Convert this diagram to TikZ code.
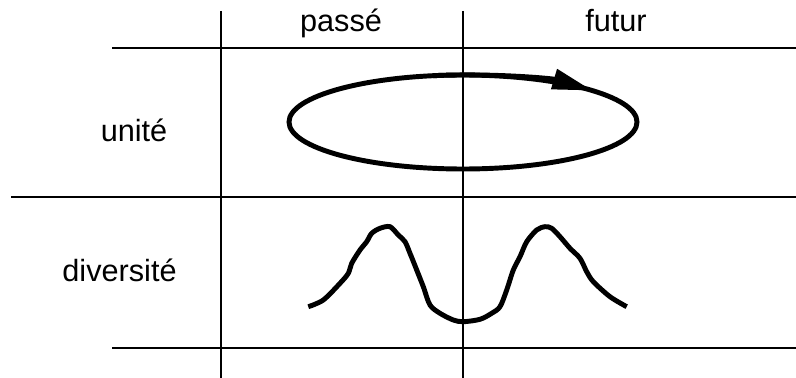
\documentclass[tikz,border=0pt]{standalone}
\usepackage{fontspec}
\setmainfont{Liberation Sans}
\usepackage{tikz}
\usetikzlibrary{arrows.meta,positioning}

\begin{document}
\begin{tikzpicture}[
  x=0.75pt, y=-0.75pt,
  gridline/.style={line width=1.5pt, black},
  timeline/.style={line width=3.7pt, black},
  label/.style={anchor=base, inner sep=0pt, font=\fontsize{23}{27}\selectfont},
  >={Triangle[length=30pt, width=15pt]}
]
  \useasboundingbox (0,0) rectangle (796,378);

  % Grid corners
  \coordinate (ptop)  at (221,11);   \coordinate (pbot)  at (221,378);
  \coordinate (ftop)  at (463,11);   \coordinate (fbot)  at (463,378);
  \coordinate (h1l)   at (112,48);   \coordinate (h1r)   at (796,48);
  \coordinate (h2l)   at (11,197);   \coordinate (h2r)   at (796,197);
  \coordinate (h3l)   at (112,348);  \coordinate (h3r)   at (796,348);

  \draw[gridline] (ptop) -- (pbot);
  \draw[gridline] (ftop) -- (fbot);
  \draw[gridline] (h1l) -- (h1r);
  \draw[gridline] (h2l) -- (h2r);
  \draw[gridline] (h3l) -- (h3r);

  % Column and row titles
  \node[label] (passe) at (341,32)  {passé};
  \node[label] (futur) at (616,32)  {futur};
  \node[label] (unite) at (134,142) {unité};
  \node[label] (diver) at (119.5,281) {diversité};

  % Unity: closed loop with arrow
  \coordinate (loop) at (463,122);
  \draw[timeline] (loop) ellipse [x radius=174, y radius=47];
  \draw[timeline, ->] (loop) ++(-100:174 and 47)
    arc[start angle=-100, end angle=-42, x radius=174, y radius=47];

  % Diversity: two humps
  \draw[timeline] plot[smooth, tension=0.5] coordinates {
    (308.3,306.7) (323.3,300) (340,283.3) (348.3,273.3) (351.7,263.3)
    (360,250) (366.7,241.7) (371.7,233.3) (380,228.3) (390,226.7)
    (398.3,235) (405,241.7) (410,253.3) (416.7,270) (423.3,286.7)
    (430,305) (440,313.3) (453.3,320) (463.3,321.7) (480,319.3)
    (491.7,313.3) (500,306.7) (506.7,290) (513.3,270) (520,256.7)
    (526.7,241.7) (536.7,230) (545,226.7) (551.7,228.3) (560,236.7)
    (570,248.3) (580,258.3) (586.7,271.7) (593.3,281.7) (610,296.7)
    (626.7,306.7)};
\end{tikzpicture}
\end{document}
